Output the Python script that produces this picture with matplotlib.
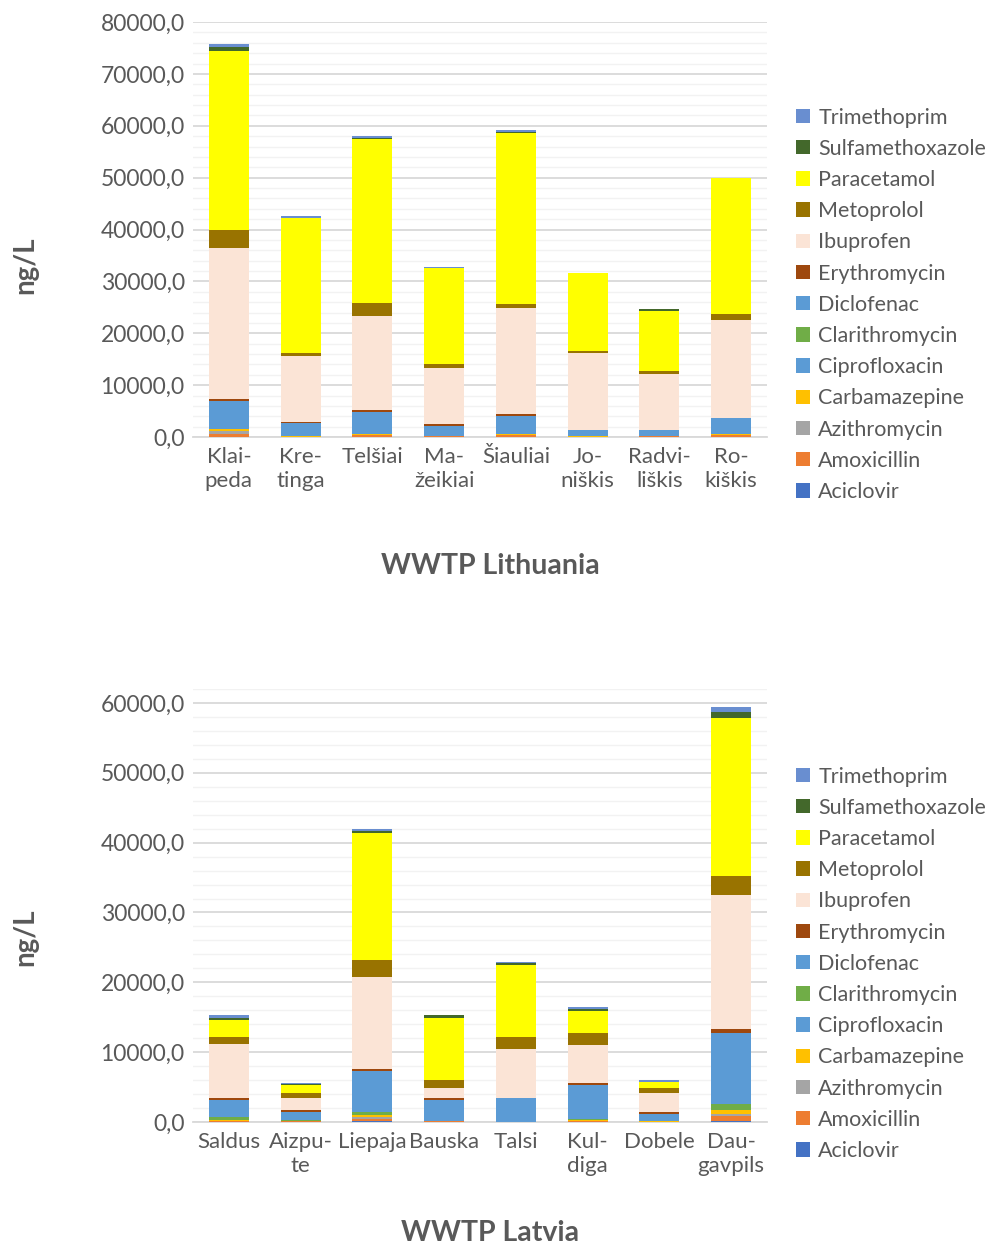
import matplotlib
matplotlib.use("Agg")
from matplotlib import pyplot as plt
from matplotlib.ticker import FuncFormatter, MultipleLocator
from matplotlib.patches import Patch
import numpy as np

plt.rcParams['font.family'] = ['Lato', 'DejaVu Sans']

# stacking order, bottom to top
drugs = ["Aciclovir", "Amoxicillin", "Azithromycin", "Carbamazepine", "Ciprofloxacin",
         "Clarithromycin", "Diclofenac", "Erythromycin", "Ibuprofen", "Metoprolol",
         "Paracetamol", "Sulfamethoxazole", "Trimethoprim"]
colors = ["#4472C4", "#ED7D31", "#A5A5A5", "#FFC000", "#5B9BD5", "#70AD47", "#5B9BD5",
          "#9E480E", "#FBE4D6", "#997300", "#FFFF00", "#43682B", "#698ED0"]

lt_sites = ["Klai-\npeda", "Kre-\ntinga", "Telšiai", "Ma-\nžeikiai", "Šiauliai",
            "Jo-\nniškis", "Radvi-\nliškis", "Ro-\nkiškis"]
lt_values = {
    "Aciclovir":        [0, 0, 0, 0, 0, 0, 0, 0],
    "Amoxicillin":      [580, 0, 380, 260, 320, 0, 260, 320],
    "Azithromycin":     [570, 0, 0, 0, 0, 0, 0, 0],
    "Carbamazepine":    [320, 260, 260, 0, 260, 260, 0, 260],
    "Ciprofloxacin":    [1200, 500, 900, 400, 700, 300, 300, 600],
    "Clarithromycin":   [0, 0, 0, 0, 0, 0, 0, 0],
    "Diclofenac":       [4290, 1870, 3270, 1520, 2690, 850, 850, 2410],
    "Erythromycin":     [390, 320, 380, 320, 390, 0, 0, 0],
    "Ibuprofen":        [29070, 12640, 18200, 10850, 20560, 14690, 10730, 18900],
    "Metoprolol":       [3390, 640, 2490, 640, 640, 450, 640, 1280],
    "Paracetamol":      [34650, 26020, 31520, 18530, 33050, 15140, 11500, 26100],
    "Sulfamethoxazole": [700, 0, 300, 0, 250, 0, 450, 0],
    "Trimethoprim":     [510, 310, 270, 320, 250, 0, 0, 0],
}

lv_sites = ["Saldus", "Aizpu-\nte", "Liepaja", "Bauska", "Talsi", "Kul-\ndiga", "Dobele",
            "Dau-\ngavpils"]
lv_values = {
    "Aciclovir":        [0, 0, 100, 0, 0, 0, 0, 190],
    "Amoxicillin":      [140, 100, 280, 100, 0, 100, 0, 620],
    "Azithromycin":     [0, 0, 340, 0, 50, 0, 0, 390],
    "Carbamazepine":    [190, 0, 280, 0, 0, 140, 100, 520],
    "Ciprofloxacin":    [0, 0, 0, 0, 0, 0, 0, 0],
    "Clarithromycin":   [390, 140, 390, 0, 0, 190, 0, 820],
    "Diclofenac":       [2490, 1240, 5930, 3110, 3440, 4830, 1050, 10240],
    "Erythromycin":     [280, 190, 290, 280, 0, 290, 250, 520],
    "Ibuprofen":        [7660, 1820, 13150, 1340, 6990, 5410, 2710, 19160],
    "Metoprolol":       [960, 670, 2460, 1150, 1630, 1820, 720, 2800],
    "Paracetamol":      [2440, 1100, 18220, 8850, 10400, 3110, 960, 22580],
    "Sulfamethoxazole": [280, 150, 240, 480, 250, 280, 0, 910],
    "Trimethoprim":     [480, 140, 290, 0, 180, 290, 240, 670],
}

grey = "#595959"
W, H = 989, 1246
fig = plt.figure(figsize=(W / 100, H / 100), dpi=100)


def fmt(v, pos):
    return f"{v:.1f}".replace(".", ",")


def draw(rect, sites, values, ymax, title, title_y, ylab_y, leg_top):
    ax = fig.add_axes(rect)
    x = np.arange(len(sites))
    bottom = np.zeros(len(sites))
    for name, col in zip(drugs, colors):
        v = np.array(values[name], dtype=float)
        ax.bar(x, v, 0.56, bottom=bottom, color=col, linewidth=0, zorder=3)
        bottom += v
    ax.set_xlim(-0.5, len(sites) - 0.5)
    ax.set_ylim(0, ymax)
    ax.yaxis.set_major_locator(MultipleLocator(10000))
    ax.yaxis.set_minor_locator(MultipleLocator(2000))
    ax.yaxis.set_major_formatter(FuncFormatter(fmt))
    ax.grid(axis="y", which="major", color="#D9D9D9", linewidth=1.3, zorder=0)
    ax.grid(axis="y", which="minor", color="#F2F2F2", linewidth=1.0, zorder=0)
    for s in ["top", "right", "left"]:
        ax.spines[s].set_visible(False)
    ax.spines["bottom"].set_color("#D9D9D9")
    ax.spines["bottom"].set_linewidth(1.3)
    ax.set_xticks(x)
    ax.set_xticklabels(sites, linespacing=1.25)
    ax.tick_params(axis="both", which="both", length=0, colors=grey, labelsize=16)
    ax.tick_params(axis="y", labelsize=16.5, pad=6)
    ax.tick_params(axis="x", pad=7)

    fig.text(490 / W, title_y, title, ha="center", va="center", fontsize=20.5,
             fontweight="bold", color=grey)
    fig.text(25 / W, ylab_y, "ng/L", ha="center", va="center", rotation=90,
             fontsize=20, fontweight="bold", color=grey)

    handles = [Patch(facecolor=c, label=n) for n, c in zip(drugs, colors)][::-1]
    ax.legend(handles=handles, loc="upper left", bbox_to_anchor=(787 / W, leg_top),
              bbox_transform=fig.transFigure, frameon=False, fontsize=15.5,
              labelcolor=grey, handlelength=0.65, handleheight=0.65,
              handletextpad=0.4, labelspacing=0.52, borderaxespad=0)
    return ax


draw([193 / W, 1 - 437 / H, 574 / W, 415 / H], lt_sites, lt_values, 80000,
     "WWTP Lithuania", 1 - 566 / H, 1 - 265 / H, 1 - 99 / H)
draw([193 / W, 1 - 1122 / H, 574 / W, 433 / H], lv_sites, lv_values, 62000,
     "WWTP Latvia", 1 - 1233 / H, 1 - 937 / H, 1 - 758 / H)

fig.savefig("out.png", dpi=100)
